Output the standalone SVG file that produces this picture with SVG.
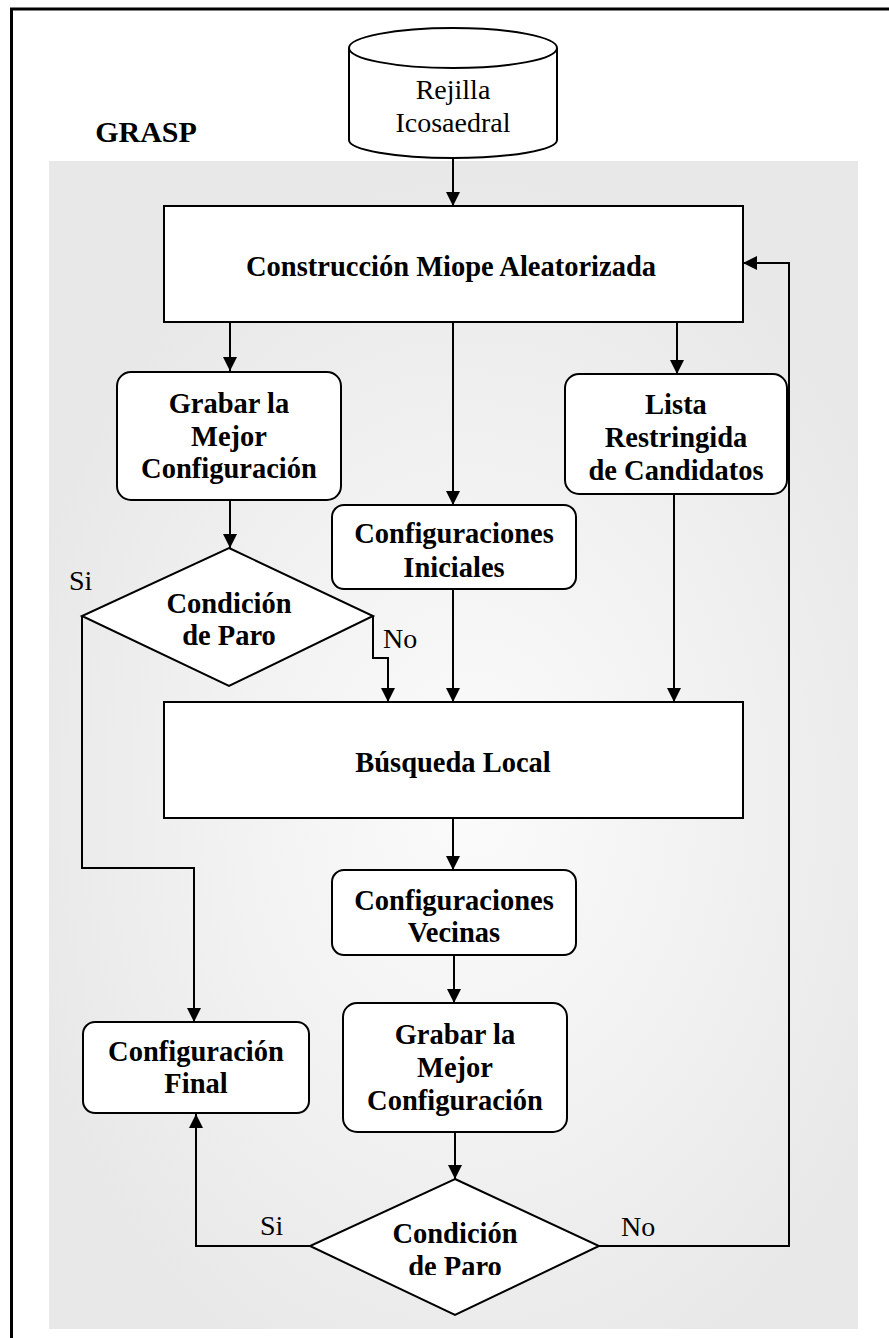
<svg xmlns="http://www.w3.org/2000/svg" width="889" height="1338" viewBox="0 0 889 1338">
  <style>
    .node { fill: #ffffff; stroke: #000000; stroke-width: 2; }
    .edge { fill: none; stroke: #000000; stroke-width: 2; }
    .bold { font-family: "Liberation Serif", "Times New Roman", serif; font-weight: bold; font-size: 28.5px; text-anchor: middle; fill: #000000; }
    .plain { font-family: "Liberation Serif", "Times New Roman", serif; font-size: 28px; fill: #000000; }
  </style>
  <defs>
    <marker id="arrow" viewBox="0 0 14 14" refX="14" refY="7" markerWidth="14" markerHeight="14" markerUnits="userSpaceOnUse" orient="auto">
      <path d="M0,0 L14,7 L0,14 z" fill="#000000"/>
    </marker>
    <radialGradient id="panelShade" gradientUnits="userSpaceOnUse" cx="470" cy="800" r="520" gradientTransform="translate(470 800) scale(0.9 1.2) translate(-470 -800)">
      <stop offset="0" stop-color="#fbfbfb"/>
      <stop offset="0.55" stop-color="#f1f1f1"/>
      <stop offset="1" stop-color="#e8e8e8"/>
    </radialGradient>
    <clipPath id="paroClip">
      <rect x="300" y="1170" width="310" height="105"/>
    </clipPath>
  </defs>

  <!-- page background and frame -->
  <rect x="0" y="0" width="889" height="1338" fill="#ffffff"/>
  <rect x="11.5" y="9" width="900" height="1350" fill="none" stroke="#000000" stroke-width="3"/>

  <!-- GRASP panel -->
  <rect x="49" y="161" width="809" height="1168" fill="url(#panelShade)"/>
  <text class="bold" x="146" y="142" style="font-size:30px">GRASP</text>

  <!-- connectors -->
  <g id="connectors">
    <path class="edge" d="M453,158 L453,206" marker-end="url(#arrow)"/>
    <path class="edge" d="M230,322 L230,371" marker-end="url(#arrow)"/>
    <path class="edge" d="M453,322 L453,505" marker-end="url(#arrow)"/>
    <path class="edge" d="M677,322 L677,374" marker-end="url(#arrow)"/>
    <path class="edge" d="M230,500 L230,548" marker-end="url(#arrow)"/>
    <path class="edge" d="M373,616 L373,658 L388,658 L388,702" marker-end="url(#arrow)"/>
    <path class="edge" d="M453,589 L453,702" marker-end="url(#arrow)"/>
    <path class="edge" d="M674,494 L674,702" marker-end="url(#arrow)"/>
    <path class="edge" d="M82,616 L82,868 L194,868 L194,1022" marker-end="url(#arrow)"/>
    <path class="edge" d="M453,818 L453,870" marker-end="url(#arrow)"/>
    <path class="edge" d="M454,955 L454,1003" marker-end="url(#arrow)"/>
    <path class="edge" d="M455,1132 L455,1179" marker-end="url(#arrow)"/>
    <path class="edge" d="M310,1246 L196,1246 L196,1114" marker-end="url(#arrow)"/>
    <path class="edge" d="M599,1246 L789,1246 L789,263 L743,263" marker-end="url(#arrow)"/>
    <text class="plain" x="69" y="590">Si</text>
    <text class="plain" x="383" y="648">No</text>
    <text class="plain" x="260" y="1235">Si</text>
    <text class="plain" x="621" y="1236">No</text>
  </g>

  <!-- input grid (cylinder) -->
  <g id="rejilla">
    <path class="node" d="M349,48 L349,140 A104,18 0 0 0 557,140 L557,48"/>
    <ellipse class="node" cx="453" cy="48" rx="104" ry="20"/>
    <text class="plain" x="453" y="99" text-anchor="middle">Rejilla</text>
    <text class="plain" x="453" y="131.5" text-anchor="middle">Icosaedral</text>
  </g>

  <g id="construccion">
    <rect class="node" x="164" y="206" width="579" height="116"/>
    <text class="bold" x="451" y="276">Construcción Miope Aleatorizada</text>
  </g>

  <g id="grabar-1">
    <rect class="node" x="117" y="372" width="224" height="128" rx="14"/>
    <text class="bold" x="229" y="413">Grabar la</text>
    <text class="bold" x="229" y="445.5">Mejor</text>
    <text class="bold" x="229" y="478">Configuración</text>
  </g>

  <g id="lista-candidatos">
    <rect class="node" x="565" y="374" width="222" height="120" rx="14"/>
    <text class="bold" x="676" y="414">Lista</text>
    <text class="bold" x="676" y="447">Restringida</text>
    <text class="bold" x="676" y="480">de Candidatos</text>
  </g>

  <g id="config-iniciales">
    <rect class="node" x="332" y="505" width="244" height="84" rx="12"/>
    <text class="bold" x="454" y="543">Configuraciones</text>
    <text class="bold" x="454" y="577">Iniciales</text>
  </g>

  <g id="paro-1">
    <path class="node" d="M229,548 L373,616 L229,686 L82,616 z"/>
    <text class="bold" x="229" y="613">Condición</text>
    <text class="bold" x="229" y="645">de Paro</text>
  </g>

  <g id="busqueda-local">
    <rect class="node" x="164" y="702" width="579" height="116"/>
    <text class="bold" x="453" y="772">Búsqueda Local</text>
  </g>

  <g id="config-vecinas">
    <rect class="node" x="332" y="870" width="244" height="85" rx="12"/>
    <text class="bold" x="454" y="910">Configuraciones</text>
    <text class="bold" x="454" y="942">Vecinas</text>
  </g>

  <g id="grabar-2">
    <rect class="node" x="343" y="1003" width="224" height="129" rx="14"/>
    <text class="bold" x="455" y="1043.5">Grabar la</text>
    <text class="bold" x="455" y="1077">Mejor</text>
    <text class="bold" x="455" y="1110">Configuración</text>
  </g>

  <g id="config-final">
    <rect class="node" x="83" y="1022" width="226" height="91" rx="12"/>
    <text class="bold" x="196" y="1061">Configuración</text>
    <text class="bold" x="196" y="1093">Final</text>
  </g>

  <g id="paro-2">
    <path class="node" d="M455,1179 L599,1246 L455,1315 L310,1246 z"/>
    <text class="bold" x="455" y="1243">Condición</text>
    <text class="bold" x="455" y="1275.5" clip-path="url(#paroClip)">de Paro</text>
  </g>
</svg>
